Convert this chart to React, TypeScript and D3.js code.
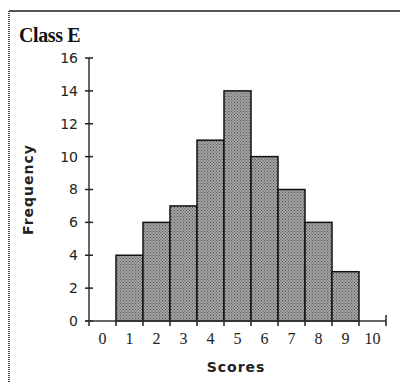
import React from 'react';
import * as d3 from 'd3';

const scores = [1, 2, 3, 4, 5, 6, 7, 8, 9];
const frequencies = [4, 6, 7, 11, 14, 10, 8, 6, 3];
const xTickLabels = [0, 1, 2, 3, 4, 5, 6, 7, 8, 9, 10];
const yTicks = [0, 2, 4, 6, 8, 10, 12, 14, 16];

const App: React.FC = () => {
  const width = 400;
  const height = 382;

  const x = d3.scaleLinear().domain([-0.5, 10.5]).range([89, 386]);
  const y = d3.scaleLinear().domain([0, 16]).range([321, 58]);

  // bar edges sit at half scores
  const edges = d3.range(-0.5, 11, 1);

  return (
    <svg width={width} height={height} style={{ position: 'absolute', left: 0, top: 0, background: '#fff' }}>
      <defs>
        <pattern id="hatch" width="3" height="3" patternUnits="userSpaceOnUse">
          <rect width="3" height="3" fill="#a4a4a4" />
          <rect x="0" y="0" width="1" height="1" fill="#555" />
          <rect x="1.5" y="1.5" width="1" height="1" fill="#555" />
        </pattern>
      </defs>

      {/* frame */}
      <line x1={9} y1={11} x2={400} y2={11} stroke="#555" strokeWidth={2} />
      <line x1={9} y1={11} x2={9} y2={382} stroke="#444" strokeWidth={2} strokeDasharray="1 1" />

      <text x={19} y={42} fontFamily="Liberation Serif, serif" fontWeight="bold" fontSize={20} letterSpacing={-0.4} fill="#111">
        Class E
      </text>

      {/* bars */}
      {scores.map((s, i) => (
        <rect
          key={s}
          x={x(s - 0.5)}
          y={y(frequencies[i])}
          width={x(s + 0.5) - x(s - 0.5)}
          height={y(0) - y(frequencies[i])}
          fill="url(#hatch)"
          stroke="#111"
          strokeWidth={1.5}
        />
      ))}

      {/* y axis */}
      <line x1={x(-0.5)} y1={y(0)} x2={x(-0.5)} y2={y(16)} stroke="#333" strokeWidth={1.5} />
      {yTicks.map(t => (
        <g key={t}>
          <line x1={x(-0.5) - 4} x2={x(-0.5) + 4} y1={y(t)} y2={y(t)} stroke="#222" strokeWidth={1.5} />
          <text x={x(-0.5) - 11} y={y(t)} dy="0.35em" textAnchor="end" fontFamily="DejaVu Sans, sans-serif" fontSize={14} fill="#222">
            {t}
          </text>
        </g>
      ))}

      {/* x axis */}
      <line x1={x(-0.5) - 4} y1={y(0)} x2={x(10.5)} y2={y(0)} stroke="#333" strokeWidth={1.5} />
      {edges.map(e => (
        <line key={e} x1={x(e)} x2={x(e)} y1={y(0) - (e === 10.5 ? 6 : 0)} y2={y(0) + 5} stroke="#222" strokeWidth={1.5} />
      ))}
      {xTickLabels.map(t => (
        <text key={t} x={x(t)} y={y(0) + 23} textAnchor="middle" fontFamily="Liberation Serif, serif" fontSize={16} fill="#222">
          {t}
        </text>
      ))}

      <text x={236} y={372} textAnchor="middle" fontFamily="DejaVu Sans, sans-serif" fontWeight="bold" fontSize={14} letterSpacing={1} fill="#222">
        Scores
      </text>
      <text
        transform={`translate(33, ${y(8)}) rotate(-90)`}
        textAnchor="middle"
        fontFamily="DejaVu Sans, sans-serif"
        fontWeight="bold"
        fontSize={14}
        letterSpacing={1}
        fill="#222"
      >
        Frequency
      </text>
    </svg>
  );
};

export default App;
